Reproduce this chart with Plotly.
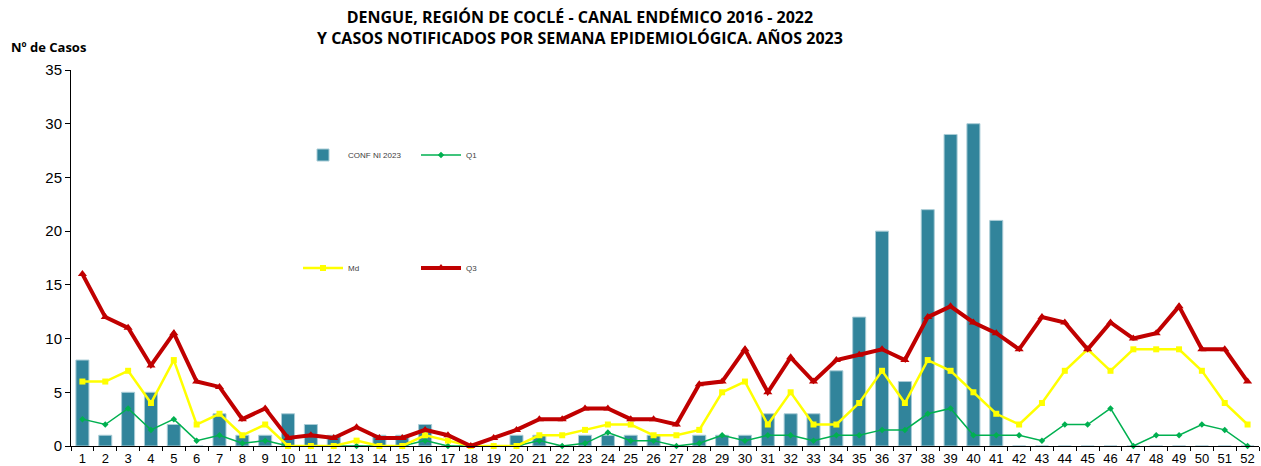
import plotly.graph_objects as go

weeks = [str(i) for i in range(1, 53)]

conf_2023 = [8, 1, 5, 5, 2, 0, 3, 1, 1, 3, 2, 1, 0, 1, 1, 2, 0, 0, 0, 1,
             1, 0, 1, 1, 1, 1, 0, 1, 1, 1, 3, 3, 3, 7, 12, 20, 6, 22, 29, 30,
             21, 0, 0, 0, 0, 0, 0, 0, 0, 0, 0, 0]

q1 = [2.5, 2, 3.5, 1.5, 2.5, 0.5, 1, 0.25, 0.5, 0, 0, 0, 0, 0, 0, 0.5, 0, 0, 0, 0,
      0.5, 0, 0.25, 1.25, 0.5, 0.5, 0, 0.25, 1, 0.5, 1, 1, 0.5, 1, 1, 1.5, 1.5, 3, 3.5, 1,
      1, 1, 0.5, 2, 2, 3.5, 0, 1, 1, 2, 1.5, 0]

md = [6, 6, 7, 4, 8, 2, 3, 1, 2, 0, 0, 0, 0.5, 0, 0, 1, 0.5, 0, 0, 0,
      1, 1, 1.5, 2, 2, 1, 1, 1.5, 5, 6, 2, 5, 2, 2, 4, 7, 4, 8, 7, 5,
      3, 2, 4, 7, 9, 7, 9, 9, 9, 7, 4, 2]

q3 = [16, 12, 11, 7.5, 10.5, 6, 5.5, 2.5, 3.5, 0.75, 1, 0.75, 1.75, 0.75, 0.75, 1.5, 1, 0, 0.75, 1.5,
      2.5, 2.5, 3.5, 3.5, 2.5, 2.5, 2, 5.75, 6, 9, 5, 8.25, 6, 8, 8.5, 9, 8, 12, 13, 11.5,
      10.5, 9, 12, 11.5, 9, 11.5, 10, 10.5, 13, 9, 9, 6]

y_ticks = [0, 5, 10, 15, 20, 25, 30, 35]

W, H = 1261, 466
ML, MR, MT, MB = 71, 2, 70, 20
PW, PH = W - ML - MR, H - MT - MB


def px_x(px):
    return (px - ML) / PW


def px_y(py):
    return (H - MB - py) / PH


fig = go.Figure()
fig.add_trace(go.Bar(x=weeks, y=conf_2023, name="CONF NI 2023",
                     marker=dict(color="#31849B", line=dict(color="#A9CCD6", width=1)),
                     width=0.57, legend="legend"))
fig.add_trace(go.Scatter(x=weeks, y=q1, name="Q1", mode="lines+markers",
                         line=dict(color="#00B050", width=1.5),
                         marker=dict(symbol="diamond", size=5, color="#00B050"),
                         cliponaxis=False, legend="legend"))
fig.add_trace(go.Scatter(x=weeks, y=md, name="Md", mode="lines+markers",
                         line=dict(color="#FFFF00", width=2.5),
                         marker=dict(symbol="square", size=6, color="#FFFF00"),
                         cliponaxis=False, legend="legend2"))
fig.add_trace(go.Scatter(x=weeks, y=q3, name="Q3", mode="lines+markers",
                         line=dict(color="#C00000", width=4),
                         marker=dict(symbol="triangle-up", size=8, color="#C00000"),
                         cliponaxis=False, legend="legend2"))

legend_common = dict(orientation="h", xanchor="left", yanchor="middle",
                     font=dict(family="Liberation Sans", size=8, color="#404040"),
                     bgcolor="rgba(0,0,0,0)", entrywidthmode="pixels", entrywidth=63,
                     itemwidth=40, tracegroupgap=0)

fig.update_layout(
    width=W, height=H,
    margin=dict(l=ML, r=MR, t=MT, b=MB, autoexpand=False),
    paper_bgcolor="white", plot_bgcolor="white",
    showlegend=True,
    legend=dict(x=px_x(298), y=px_y(155), **legend_common),
    legend2=dict(x=px_x(298), y=px_y(268), **legend_common),
    xaxis=dict(type="category", range=[-0.5, len(weeks) - 0.5], autorange=False,
               showline=True, linecolor="#000000", linewidth=1,
               ticks="outside", tickson="boundaries", ticklen=4, tickcolor="#000000",
               tickangle=0, automargin=False,
               tickfont=dict(family="Liberation Sans", size=13, color="#000000"),
               showgrid=False, zeroline=False),
    yaxis=dict(range=[0, 35], tickvals=y_ticks, showline=True, linecolor="#000000",
               linewidth=1, ticks="outside", ticklen=5, tickcolor="#000000",
               automargin=False,
               tickfont=dict(family="Liberation Sans", size=15, color="#000000"),
               showgrid=False, zeroline=False),
    annotations=[
        dict(text="<b>DENGUE, REGIÓN DE COCLÉ - CANAL ENDÉMICO 2016 - 2022<br>"
                  "Y CASOS NOTIFICADOS POR SEMANA EPIDEMIOLÓGICA. AÑOS 2023</b>",
             x=px_x(580), y=px_y(27), xref="paper", yref="paper",
             xanchor="center", yanchor="middle", showarrow=False, align="center",
             font=dict(family="Open Sans", size=16, color="#000000")),
        dict(text="<b>Nº de Casos</b>", x=px_x(9), y=px_y(47), xref="paper", yref="paper",
             xanchor="left", yanchor="middle", showarrow=False,
             font=dict(family="Open Sans", size=13, color="#000000")),
    ],
)

fig.write_html("out.html", config={"displayModeBar": False},
               post_script="document.body.style.margin='0';")
